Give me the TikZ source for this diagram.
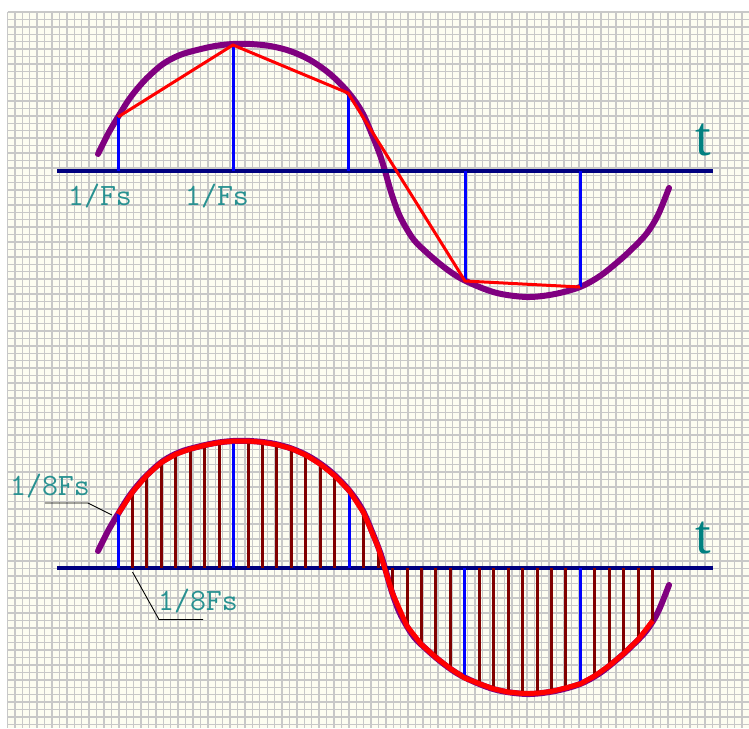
\documentclass[tikz,border=0pt]{standalone}
\usepackage{fontspec}
\newfontfamily\tfont{Liberation Serif}
\definecolor{paper}{RGB}{253,253,241}
\definecolor{gridc}{RGB}{200,200,200}
\definecolor{navyc}{RGB}{0,0,128}
\definecolor{bluec}{RGB}{0,0,255}
\definecolor{maroonc}{RGB}{128,0,0}
\definecolor{redc}{RGB}{255,0,0}
\definecolor{purplec}{RGB}{128,0,128}
\definecolor{tealc}{RGB}{0,128,128}
\definecolor{labc}{RGB}{40,145,145}
\begin{document}
\begin{tikzpicture}[x=1pt,y=-1pt,
  gridline/.style={draw=gridc,line width=1.4pt},
  axisline/.style={draw=navyc,line width=3.5pt},
  bluestem/.style={draw=bluec,line width=3pt},
  maroonstem/.style={draw=maroonc,line width=3pt},
  wave/.style={draw=purplec,line width=6pt,line cap=round},
  poly/.style={draw=redc,line width=3pt,line join=round},
  polythick/.style={draw=redc,line width=5pt,line join=round},
  leader/.style={draw=black,line width=0.9pt},
  lab/.style={text=labc,font=\ttfamily\fontsize{31}{33}\selectfont,inner sep=0pt,anchor=base},
  tlab/.style={text=tealc,font=\tfont\fontsize{56}{60}\selectfont,inner sep=0pt,anchor=base}]
\useasboundingbox (0,0) rectangle (749,728);
\fill[white] (0,0) rectangle (749,728);
\fill[paper] (7.5,12) rectangle (749,728);
\foreach \i in {0,...,99} { \draw[gridline] ({7.5+7.42*\i},12) -- ({7.5+7.42*\i},728); }
\foreach \i in {0,...,96} { \draw[gridline] (7.5,{12+7.42*\i}) -- (749,{12+7.42*\i}); }

% purple waves
\foreach \dy in {0,397} {
  \draw[wave,shift={(0,\dy)}] plot[smooth,tension=0.55] coordinates {
    (98,154) (108,134) (118,117) (130,98) (145,80) (163,64) (180,55) (197,50) (215,46)
    (233,44) (250,44) (270,46) (290,51) (310,60) (330,74) (348,92) (362,112) (373,137)
    (380,155) (385,171) (391,192) (398,212) (405,226) (414,240) (425,251) (440,264)
    (455,275) (470,283) (490,291)
    (507,295) (530,297) (555,294) (580,287) (600,276) (620,260) (635,246) (647,233)
    (658,215) (669,188)};
}

% ---------- top panel ----------
\coordinate (ta) at (57,171);
\coordinate (tb) at (713,171);
\draw[axisline] (ta) -- (tb);
\coordinate (p0) at (118,117);
\coordinate (p1) at (233,45);
\coordinate (p2) at (348,93);
\coordinate (p3) at (465,281);
\coordinate (p4) at (580,287);
\foreach \p in {p0,p1,p2,p3,p4} { \draw[bluestem] (\p |- ta) -- (\p); }
\draw[poly] (p0) -- (p1) -- (p2) -- (p3) -- (p4);
\node[lab] (fs1) at (100,205) {1/Fs};
\node[lab] (fs2) at (217,205) {1/Fs};
\node[tlab] (t1) at (703,155) {t};

% ---------- bottom panel ----------
\coordinate (ba) at (57,568);
\coordinate (bb) at (713,568);
\def\samples{0/117,1/95.1,2/78.3,3/65.5,4/57.2,5/52.0,6/48.3,7/45.5,8/44,9/44,10/45.25,
11/47.7,12/51.6,13/58.1,14/67.2,15/78.75,16/93.7,17/115.75,18/150.1,19/196.4,20/229.1,
21/247.5,22/260.4,23/271.6,24/281,25/286.7,26/291.9,27/295.1,28/296.4,29/296.2,30/294.4,
31/290.9,32/286.8,33/278.8,34/268.6,35/256.5,36/242.5,37/223.8}
\draw[axisline] (ba) -- (bb);
\foreach \k/\yy in \samples {
  \draw[maroonstem] ({118+14.45*\k},568) -- ({118+14.45*\k},{\yy+397});
}
\foreach \k/\yy in {0/117,8/44,16/93.7,24/281,32/286.8} {
  \draw[bluestem] ({118+14.45*\k},568) -- ({118+14.45*\k},{\yy+397});
}
\draw[polythick] (118,514) \foreach \k/\yy in \samples { -- ({118+14.45*\k},{\yy+397}) };
\node[tlab] (t2) at (703,553) {t};

\node[lab] (e1) at (50,495) {1/8Fs};
\coordinate (l1a) at (45,503);
\coordinate (l1b) at (88,503);
\coordinate (l1c) at (112,515);
\draw[leader] (l1a) -- (l1b) -- (l1c);
\node[lab] (e2) at (198,610) {1/8Fs};
\coordinate (l2a) at (132.5,572);
\coordinate (l2b) at (159,619.5);
\coordinate (l2c) at (203,619.5);
\draw[leader] (l2a) -- (l2b) -- (l2c);
\end{tikzpicture}
\end{document}
